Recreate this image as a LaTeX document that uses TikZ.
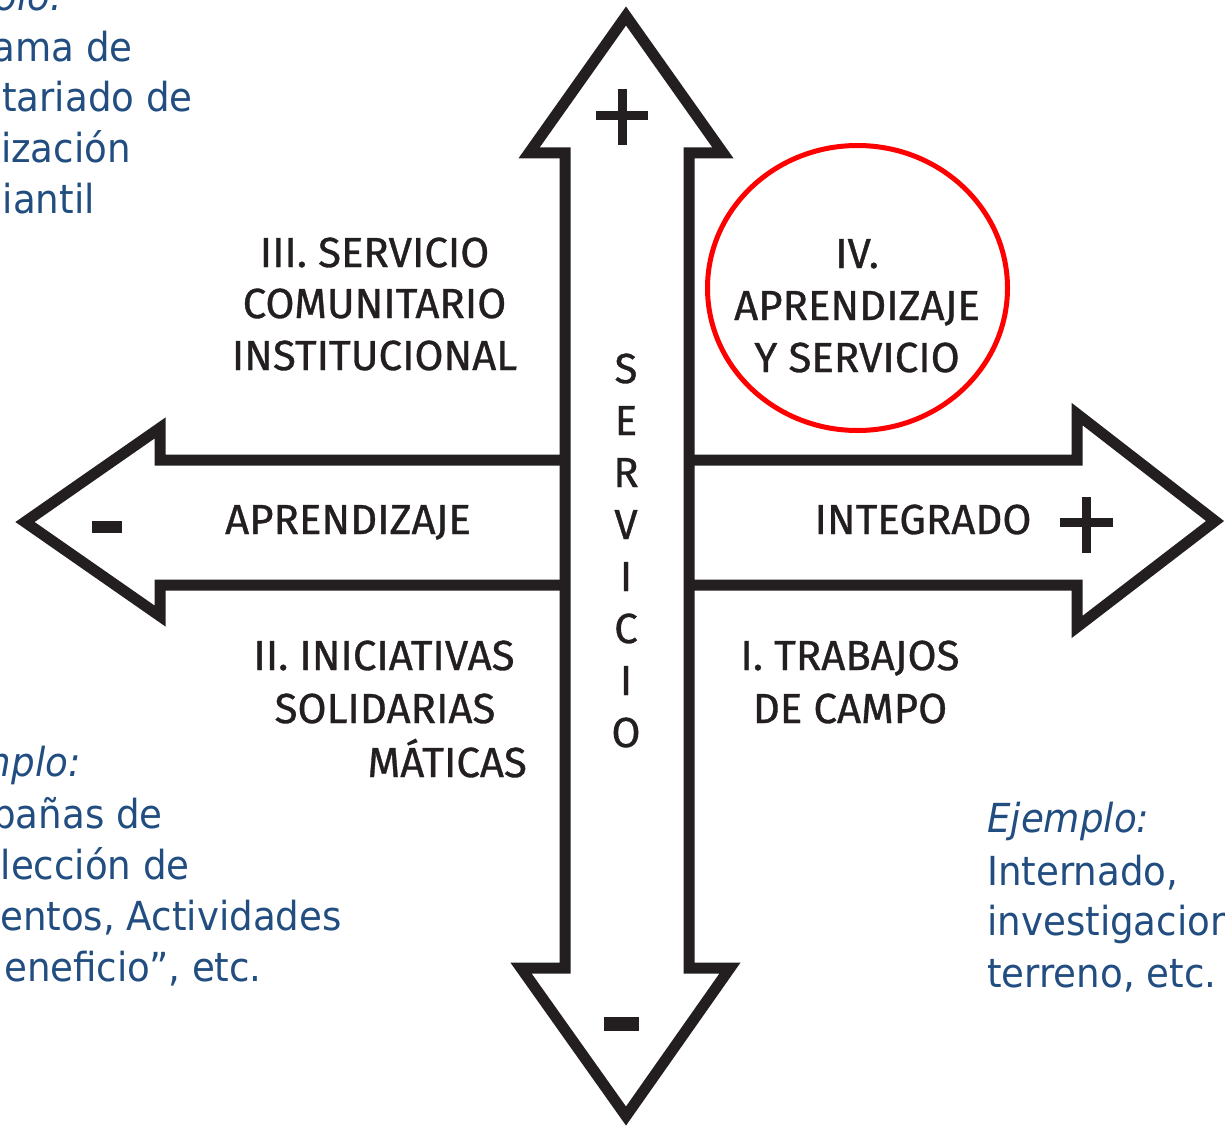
\documentclass[tikz,border=0pt]{standalone}
\usepackage{fontspec}
\newfontfamily\labfont[FakeBold=0.8]{Fira Sans}
\newfontfamily\bluefont[FakeStretch=0.93]{DejaVu Sans}
\definecolor{inkblk}{RGB}{35,31,32}
\definecolor{txtblue}{RGB}{33,77,128}
\begin{document}
\begin{tikzpicture}[x=1pt,y=-1pt,
  outline/.style={draw=inkblk, line width=11pt, line join=miter, miter limit=10},
  lab/.style={inner sep=0pt, font=\labfont\fontsize{42}{50}\selectfont, text=inkblk},
  bluetxt/.style={inner sep=0pt, font=\bluefont\fontsize{40}{50}\selectfont, text=txtblue},
  signline/.style={draw=inkblk, line width=9pt}]
\useasboundingbox (0,0) rectangle (1225,1126);
\clip (0,0) rectangle (1225,1126);
\fill[white] (0,0) rectangle (1225,1126);

% cross of arrows
\draw[outline] (626,16) -- (723,153) -- (689,153) -- (689,968) -- (730,968) -- (626,1116)
  -- (521,968) -- (565,968) -- (565,153) -- (529,153) -- cycle;
\draw[outline] (565,460) -- (160,460) -- (160,428) -- (25,522) -- (160,616) -- (160,585) -- (565,585);
\draw[outline] (689,460) -- (1077,460) -- (1077,414) -- (1215,521) -- (1077,627) -- (1077,585) -- (689,585);

% signs
\draw[signline] (596,116) -- (648,116) (622,89) -- (622,145);
\draw[signline] (1060,522.5) -- (1113,522.5) (1086.5,497) -- (1086.5,553);
\fill[inkblk] (92,521) rectangle (122,533);
\fill[inkblk] (604,1017) rectangle (639,1031);

% red ellipse
\draw[red, line width=5pt] (857.5,288) ellipse [x radius=150, y radius=142.5];

% quadrant labels
\node[lab, anchor=base] (q3a) at (374.5,267) {III. SERVICIO};
\node[lab, anchor=base] (q3b) at (374.5,318) {COMUNITARIO};
\node[lab, anchor=base] (q3c) at (374.5,370) {INSTITUCIONAL};

\node[lab, anchor=base] (q4a) at (857,268) {IV.};
\node[lab, anchor=base] (q4b) at (857,320) {APRENDIZAJE};
\node[lab, anchor=base] (q4c) at (857,372) {Y SERVICIO};

\node[lab, anchor=base] (lefttxt) at (348,534) {APRENDIZAJE};
\node[lab, anchor=base] (righttxt) at (923,534) {INTEGRADO};

\node[lab, anchor=base] (q2a) at (384,670) {II. INICIATIVAS};
\node[lab, anchor=base] (q2b) at (385,723) {SOLIDARIAS};
\node[lab, anchor=base east] (q2c) at (527,777) {MÁTICAS};

\node[lab, anchor=base] (q1a) at (850,670) {I. TRABAJOS};
\node[lab, anchor=base] (q1b) at (850,723) {DE CAMPO};

\foreach \ch [count=\k from 0] in {S,E,R,V,I,C,I,O}
  \node[lab, anchor=base] (sv\k) at (626,{383+52*\k}) {\ch};

% blue example texts
\node[bluetxt, anchor=base east] (ta) at (63,11) {\itshape olo:};
\node[bluetxt, anchor=base east] (tb) at (133,62) {ama de};
\node[bluetxt, anchor=base east] (tc) at (193,112) {tariado de};
\node[bluetxt, anchor=base east] (td) at (131,163) {ización};
\node[bluetxt, anchor=base east] (te) at (95,213) {iantil};

\node[bluetxt, anchor=base east] (ba) at (81,776) {\itshape nplo:};
\node[bluetxt, anchor=base east] (bb) at (163,828) {pañas de};
\node[bluetxt, anchor=base east] (bc) at (190,879) {lección de};
\node[bluetxt, anchor=base east] (bd) at (342,930) {entos, Actividades};
\node[bluetxt, anchor=base east] (be) at (262,981) {eneficio”, etc.};

\node[bluetxt, anchor=base west] (ra) at (987,832) {\itshape Ejemplo:};
\node[bluetxt, anchor=base west] (rb) at (987,885) {Internado,};
\node[bluetxt, anchor=base west] (rc) at (987,935) {investigacion};
\node[bluetxt, anchor=base west] (rd) at (987,987) {terreno, etc.};
\end{tikzpicture}
\end{document}
